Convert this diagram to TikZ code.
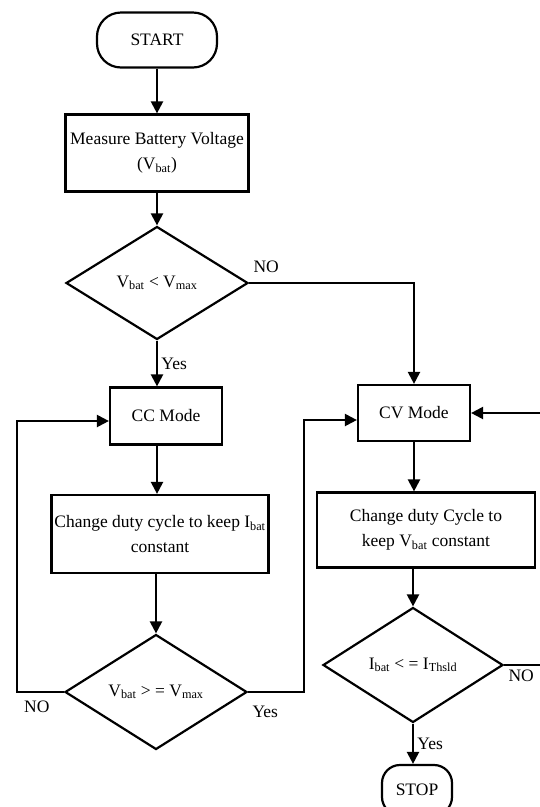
\documentclass[tikz,border=0pt]{standalone}
\usepackage{fontspec}
\setmainfont{Liberation Serif}
\usetikzlibrary{shapes.geometric, arrows.meta}

\begin{document}
\begin{tikzpicture}[x=1pt, y=-1pt, line width=2.2pt, >={Triangle[length=12pt,width=12pt]},
    every node/.style={font=\fontsize{17.5}{25}\selectfont},
    box/.style={draw, rectangle, align=center, inner sep=2pt},
    term/.style={draw, rectangle, rounded corners=24pt},
    decision/.style={draw, diamond, inner sep=0pt}]
      \useasboundingbox (0,0) rectangle (540,807);

      \node[term, minimum width=120pt, minimum height=55pt] (start) at (157,40) {START};
      \node[box, minimum width=183pt, minimum height=77pt] (measure) at (157,153) {Measure Battery Voltage\\(V\textsubscript{bat})};
      \node[decision, minimum width=182pt, minimum height=113pt] (d1) at (157,283) {V\textsubscript{bat} < V\textsubscript{max}};
      \node[box, minimum width=112pt, minimum height=57pt] (cc) at (166,416) {CC Mode};
      \node[box, minimum width=217pt, minimum height=78pt] (ccduty) at (160,534) {Change duty cycle to keep I\textsubscript{bat}\\constant};
      \node[decision, minimum width=182pt, minimum height=115pt] (d2) at (156,692) {V\textsubscript{bat} > = V\textsubscript{max}};

      \node[box, minimum width=112pt, minimum height=56pt] (cv) at (414,413) {CV Mode};
      \node[box, minimum width=218pt, minimum height=75pt] (cvduty) at (426,530) {Change duty Cycle to\\keep V\textsubscript{bat} constant};
      \node[decision, minimum width=180pt, minimum height=115pt] (d3) at (413,665) {I\textsubscript{bat} < = I\textsubscript{Thsld}};
      \node[term, minimum width=70pt, minimum height=50pt, rounded corners=18pt] (stop) at (417,790) {STOP};

      \draw[->] (start) -- (measure);
      \draw[->] (measure) -- (d1);
      \draw[->] (d1.east) node[above right, yshift=6pt] {NO} -| (cv.north);
      \draw[->] (d1.south) -- (d1.south |- cc.north) node[midway, right] {Yes};
      \draw[->] (cc.south -| d1.south) -- (ccduty.north -| d1.south);
      \draw[->] (ccduty.south -| d2.north) -- (d2.north);
      \draw[->] (d2.west) node[below left, xshift=-10pt, yshift=-4pt] {NO} -- ++(-47,0) |- ([yshift=-5pt]cc.west);
      \draw[->] (d2.east) node[below right, yshift=-10pt] {Yes} -- ++(56,0) |- ([yshift=-7pt]cv.west);

      \draw[->] (cv.south) -- (cv.south |- cvduty.north);
      \draw[->] (cvduty.south -| d3.north) -- (d3.north);
      \draw[->] (d3.east) node[below right] {NO} -- ++(42,0) |- (cv.east);
      \draw[->] (d3.south) -- (d3.south |- stop.north) node[midway, right] {Yes};
    \end{tikzpicture}
\end{document}
